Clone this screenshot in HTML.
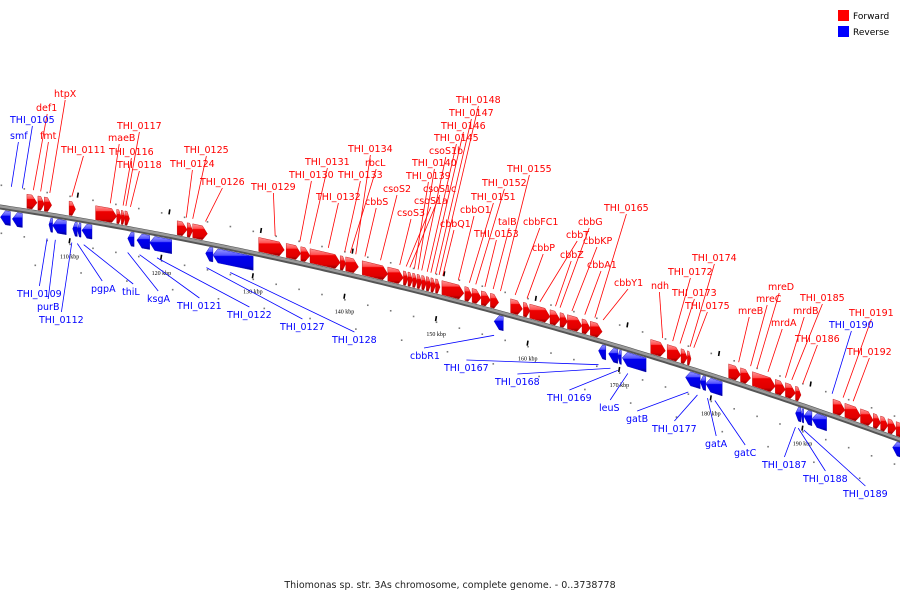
<!DOCTYPE html>
<html><head><meta charset="utf-8">
<style>
html,body{margin:0;padding:0;background:#fff;}
svg{display:block;font-family:"DejaVu Sans","Liberation Sans",sans-serif;}
</style></head>
<body>
<svg id="chart" width="900" height="600" viewBox="0 0 900 600" xmlns="http://www.w3.org/2000/svg">
<defs>
<linearGradient id="gF" x1="0" y1="0" x2="0" y2="1">
<stop offset="0" stop-color="#ff9a9a"/><stop offset="0.3" stop-color="#ff5050"/><stop offset="0.35" stop-color="#ee0000"/><stop offset="0.8" stop-color="#e00000"/><stop offset="1" stop-color="#880000"/>
</linearGradient>
<linearGradient id="gR" x1="0" y1="0" x2="0" y2="1">
<stop offset="0" stop-color="#9a9aff"/><stop offset="0.3" stop-color="#5050ff"/><stop offset="0.35" stop-color="#0000ee"/><stop offset="0.8" stop-color="#0000e0"/><stop offset="1" stop-color="#000088"/>
</linearGradient>
</defs>
<g id="grid"></g>
<g id="backbone"></g>
<g id="ticks"></g>
<g id="genes"></g>
<g id="labels"></g>
<g>
<rect x="838" y="10" width="11" height="11" fill="#f00"/>
<text x="853" y="19" font-size="9" fill="#000">Forward</text>
<rect x="838" y="26" width="11" height="11" fill="#00f"/>
<text x="853" y="35" font-size="9" fill="#000">Reverse</text>
</g>
<text x="450" y="588" font-size="9.5" text-anchor="middle" fill="#222">Thiomonas sp. str. 3As chromosome, complete genome. - 0..3738778</text>
</svg>
<script>
// gene data (kbp)
const fwdStart=[105.3,106.5,107.2,109.9,112.8,115.1,115.6,116.0,121.7,122.8,123.4,130.6,133.6,135.2,136.2,139.5,140.1,141.9,144.7,146.4,146.9,147.4,147.9,148.4,148.9,149.4,149.9,150.6,153.1,153.9,154.9,155.9,158.1,159.5,160.2,162.4,163.5,164.3,165.9,166.8,173.4,175.2,176.7,177.4,181.9,183.2,184.5,187.0,188.1,189.2,193.3,194.6,196.3,197.7,198.5,199.3,200.2];
const fwdEnd  =[106.4,107.2,108.0,110.6,115.1,115.6,116.0,116.5,122.8,123.4,125.0,133.4,135.2,136.2,139.5,140.1,141.5,144.7,146.4,146.9,147.4,147.9,148.4,148.9,149.4,149.9,150.4,153.0,153.9,154.9,155.9,156.8,159.4,160.2,162.4,163.5,164.3,165.9,166.8,168.1,175.0,176.7,177.4,177.8,183.2,184.3,187.0,188.1,189.2,189.8,194.6,196.3,197.7,198.5,199.3,200.2,201.1];
const revStart=[102.4,103.7,107.7,108.1,110.3,110.8,111.3,116.3,117.3,118.7,124.8,125.6,156.3,167.7,168.8,169.8,170.3,177.2,178.8,179.4,189.2,189.8,190.1,191.0,199.8];
const revEnd  =[103.5,104.8,108.1,109.6,110.8,111.2,112.4,117.0,118.7,121.1,125.6,130.0,157.3,168.5,169.8,170.2,172.9,178.8,179.4,181.2,189.8,190.1,191.0,192.6,200.7];
// labels: name, strand, target kbp, label x, baseline y
const labelNames=["htpX","def1","fmt","THI_0111","maeB","THI_0117","THI_0116","THI_0118","THI_0125","THI_0124","THI_0126","THI_0129","THI_0131","THI_0130","THI_0132","THI_0134","rbcL","THI_0133","cbbS","csoS2","csoS3","csoS1a","csoS1c","THI_0139","THI_0140","csoS1b","THI_0145","THI_0146","THI_0147","THI_0148","cbbQ1","cbbO1","THI_0151","THI_0152","THI_0153","talB","THI_0155","cbbFC1","cbbP","cbbT","cbbZ","cbbG","cbbKP","cbbA1","THI_0165","cbbY1","ndh","THI_0172","THI_0173","THI_0174","THI_0175","mreB","mreC","mreD","mrdA","mrdB","THI_0185","THI_0186","THI_0191","THI_0192",
"smf","THI_0105","THI_0190","THI_0109","purB","THI_0112","pgpA","thiL","ksgA","THI_0121","THI_0122","THI_0127","THI_0128","cbbR1","THI_0167","THI_0168","THI_0169","leuS","gatB","THI_0177","gatA","gatC","THI_0187","THI_0188","THI_0189"];
const labelStrand=["F","F","F","F","F","F","F","F","F","F","F","F","F","F","F","F","F","F","F","F","F","F","F","F","F","F","F","F","F","F","F","F","F","F","F","F","F","F","F","F","F","F","F","F","F","F","F","F","F","F","F","F","F","F","F","F","F","F","F","F",
"R","R","R","R","R","R","R","R","R","R","R","R","R","R","R","R","R","R","R","R","R","R","R","R","R"];
const labelKbp=[107.8,106.0,106.8,110.2,114.4,116.1,115.8,116.6,123.4,122.7,124.8,132.4,136.2,135.1,138.2,141.2,140.6,140.0,142.2,143.9,146.0,146.7,147.1,147.6,148.0,148.4,149.0,149.4,149.9,150.3,150.7,152.4,153.6,154.3,155.3,156.2,157.0,158.6,159.9,161.3,163.0,163.5,164.8,166.2,167.3,168.2,174.7,175.8,176.6,177.7,178.1,183.0,184.3,185.0,186.2,188.1,188.8,190.0,194.4,195.5,
103.6,104.8,193.2,107.5,108.4,110.2,110.8,111.5,116.3,117.6,119.5,124.9,127.5,156.3,167.7,169.0,169.8,170.9,177.5,178.5,179.6,180.4,189.2,189.5,190.1];
const labelX=[54,36,40,61,108,117,109,117,184,170,200,251,305,289,316,348,365,338,365,383,397,414,423,406,412,429,434,441,449,456,440,460,471,482,474,498,507,523,532,566,560,578,583,587,604,614,651,668,672,692,685,738,756,768,771,793,800,795,849,847,
10,10,829,17,37,39,91,122,147,177,227,280,332,410,444,495,547,599,626,652,705,734,762,803,843];
const labelY=[97,111,139,153,141,129,155,168,153,167,185,190,165,178,200,152,166,178,205,192,216,204,192,179,166,154,141,129,116,103,227,213,200,186,237,225,172,225,251,238,258,225,244,268,211,286,289,275,296,261,309,314,302,290,326,314,301,342,316,355,
139,123,328,297,310,323,292,295,302,309,318,330,343,359,371,385,401,411,422,432,447,456,468,482,497];
// tick data
const majorTicks=[110,120,130,140,150,160,170,180,190];

const NS="http://www.w3.org/2000/svg";
const xOf=k=>(k-102.36)*9.16;
const yOf=x=>207+0.1529*x+0.0001178*x*x;
function el(tag,attrs,parent){const e=document.createElementNS(NS,tag);for(const a in attrs)e.setAttribute(a,attrs[a]);parent.appendChild(e);return e;}
const svg=document.getElementById('chart');
// backbone
(function(){let d="";for(let x=-5;x<=905;x+=5){d+=(x===-5?"M":"L")+x+","+yOf(x).toFixed(2);}
const g=document.getElementById('backbone');
const p1=el('path',{d:d,fill:"none",stroke:"#555","stroke-width":5},g);


const p2=el('path',{d:d,fill:"none",stroke:"#9a9a9a","stroke-width":2.5,transform:"translate(0,-0.7)"},g);


})();
// grid dots
(function(){const g=document.getElementById('grid');
for(let k=102.5;k<=201;k+=2.5){const x=xOf(k),y=yOf(x);
[-22,26].forEach(o=>{const c=el('rect',{x:x-0.7,y:y+o-0.7,width:1.6,height:1.6,fill:"#777"},g);

});
}
for(let k=105;k<=201;k+=5){const x=xOf(k+1.2),y=yOf(x);
const c=el('rect',{x:x-0.7,y:y+52,width:1.6,height:1.6,fill:"#777"},g);

}
})();
// ticks
(function(){const g=document.getElementById('ticks');
majorTicks.forEach(k=>{let x=xOf(k),y=yOf(x);
const t=el('line',{x1:x,y1:y+20,x2:x-0.8,y2:y+25,stroke:"#000","stroke-width":1.6},g);


const lb=el('text',{x:x-10,y:y+40,"font-size":"6","font-family":"Liberation Serif, serif",fill:"#000"},g);


lb.textContent=k+" kbp";
const xa=xOf(k+0.9),ya=yOf(xa);
const t2=el('line',{x1:xa,y1:ya-27,x2:xa-0.8,y2:ya-22,stroke:"#000","stroke-width":1.6},g);


});})();
// genes
function gene(k1,k2,fwd,g){const x1=xOf(k1),x2=xOf(k2);const len=x2-x1;const a=Math.min(5,len*0.55);
let pts;
if(fwd){const t=-17,b=-3,m=-10;const xb=x2-a;
pts=[[x1,yOf(x1)+t],[xb,yOf(xb)+t],[x2,yOf(x2)+m],[xb,yOf(xb)+b],[x1,yOf(x1)+b]];}
else{const t=3,b=17,m=10;const xb=x1+a;
pts=[[xb,yOf(xb)+t],[x2,yOf(x2)+t],[x2,yOf(x2)+b],[xb,yOf(xb)+b],[x1,yOf(x1)+m]];}
const p=el('polygon',{points:pts.map(q=>q[0].toFixed(1)+","+q[1].toFixed(1)).join(" "),fill:fwd?"url(#gF)":"url(#gR)",stroke:fwd?"#b00":"#00b","stroke-width":0.4},g);


}
(function(){const g=document.getElementById('genes');
fwdStart.forEach((s,i)=>gene(s,fwdEnd[i],true,g));
revStart.forEach((s,i)=>gene(s,revEnd[i],false,g));})();
// labels
(function(){const g=document.getElementById('labels');
labelNames.forEach((n,i)=>{const col=labelStrand[i]==="F"?"#f00":"#00f";
const tx=labelX[i],ty=labelY[i];
const t=el('text',{x:tx,y:ty,"font-size":"9.5",fill:col},g);


t.textContent=n;
const w=n.length*5.6;const gx=xOf(labelKbp[i]),gy=yOf(gx);
const above=ty<gy;
const sx=tx+w/2,sy=above?ty+3:ty-11;
const ey=above?gy-22:gy+24;
const l=el('line',{x1:sx,y1:sy,x2:gx,y2:ey,stroke:col,"stroke-width":0.8},g);


});})();
</script>
</body></html>
